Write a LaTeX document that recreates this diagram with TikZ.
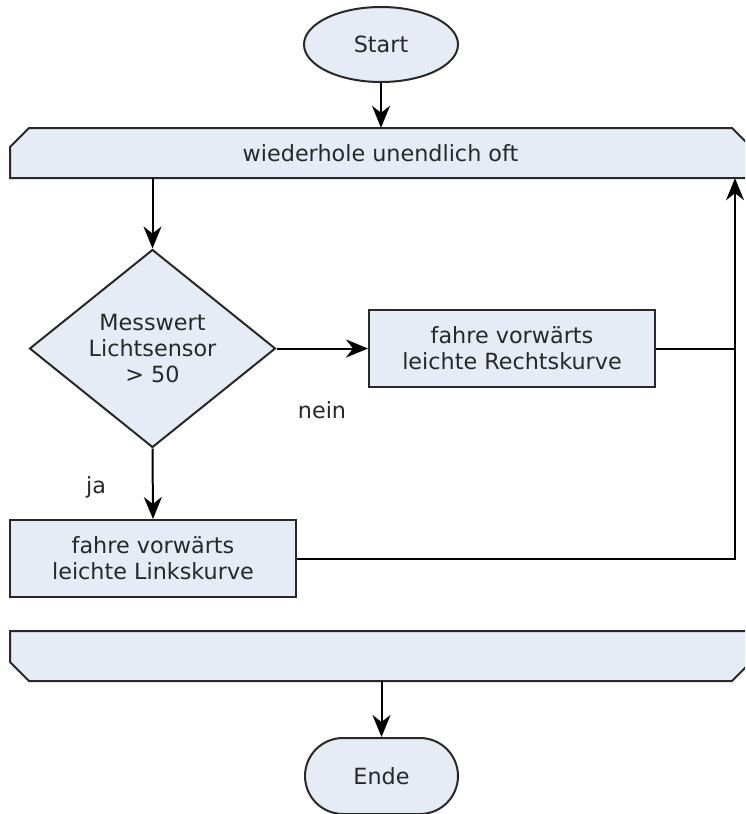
\documentclass[tikz,border=0pt]{standalone}
\usepackage{fontspec}
\setmainfont{DejaVu Sans}
\usetikzlibrary{shapes.geometric,arrows.meta}

\definecolor{boxfill}{RGB}{229,236,246}
\definecolor{boxline}{RGB}{40,40,40}
\definecolor{txt}{RGB}{40,40,40}

\tikzset{
  every node/.style={font=\fontsize{22.3}{26}\selectfont, text=txt, align=center},
  outline/.style={draw=boxline, line width=2pt, fill=boxfill},
  terminal/.style={outline, ellipse, minimum width=154pt, minimum height=75pt, inner sep=0pt},
  endterm/.style={outline, rectangle, rounded corners=38pt, minimum width=153pt, minimum height=76pt, inner sep=0pt},
  action/.style={outline, rectangle, minimum width=286pt, minimum height=77pt, inner sep=0pt},
  decision/.style={outline, diamond, minimum width=246pt, minimum height=198pt, inner sep=0pt},
  loopbar/.style={rectangle, minimum width=741pt, minimum height=50pt, inner sep=0pt},
  flow/.style={draw=black, line width=2pt, -{Stealth[length=22pt, width=18pt, inset=7pt]}},
  plain/.style={draw=black, line width=2pt},
  label/.style={inner sep=0pt}
}

\begin{document}
\begin{tikzpicture}[x=1pt, y=-1pt]
  \useasboundingbox (0,0) rectangle (745,814);
  \clip (0,0) rectangle (745,814);

  % loop head and loop foot (chamfered bars, running past the right edge)
  \path[outline] (10,147) -- (29,128) -- (732,128) -- (751,147) -- (751,178) -- (10,178) -- cycle;
  \path[outline] (10,631) -- (751,631) -- (751,662) -- (732,681) -- (29,681) -- (10,662) -- cycle;

  \node[terminal] (start) at (381,44.5) {Start};
  \node[loopbar] (looptop) at (380.5,153) {wiederhole unendlich oft};
  \node[decision] (dec) at (152.5,348.5) {Messwert\\Lichtsensor\\> 50};
  \node[action] (rbox) at (512,348.5) {fahre vorwärts\\leichte Rechtskurve};
  \node[action] (lbox) at (153,558.5) {fahre vorwärts\\leichte Linkskurve};
  \node[loopbar] (loopbot) at (380.5,656) {};
  \node[endterm] (ende) at (381.5,776) {Ende};

  \node[label] (nein) at (322,410) {nein};
  \node[label] (ja) at (96,487) {ja};

  \coordinate (back) at (735,558.5);

  % connectors
  \draw[flow] (start.south) -- (start.south |- looptop.north);
  \draw[flow] (dec.north |- looptop.south) -- (dec.north);
  \draw[flow] (dec.east) -- (rbox.west);
  \draw[flow] (dec.south) -- (lbox.north);
  \draw[plain] (rbox.east) -- (rbox.east -| back);
  \draw[flow] (lbox.east) -- (back) -- (back |- looptop.south);
  \draw[flow] (ende.north |- loopbot.south) -- (ende.north);
\end{tikzpicture}
\end{document}
